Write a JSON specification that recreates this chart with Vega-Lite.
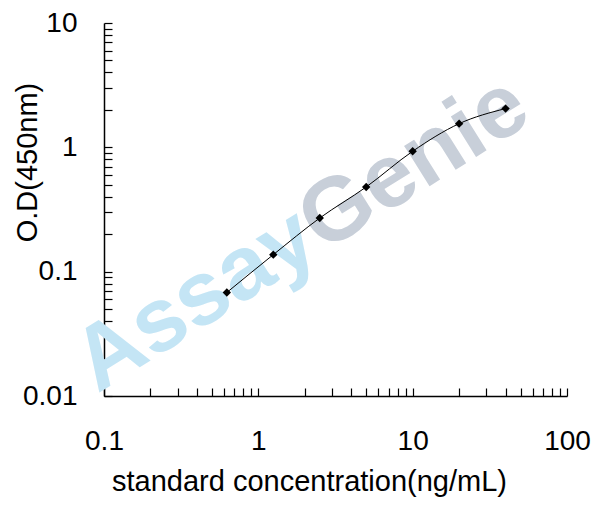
{
  "$schema": "https://vega.github.io/schema/vega-lite/v6.json",
  "width": 463,
  "height": 373,
  "autosize": "none",
  "padding": {"left": 104, "top": 23, "right": 41, "bottom": 110},
  "background": "white",
  "config": {
    "view": {"stroke": null},
    "font": "Liberation Sans",
    "axis": {
      "domainColor": "black",
      "domainWidth": 1.5,
      "tickColor": "black",
      "tickWidth": 1.2,
      "tickSize": -8,
      "labelColor": "black",
      "labelFontSize": 28,
      "titleColor": "black",
      "titleFontSize": 29,
      "titleFontWeight": "normal",
      "grid": false
    }
  },
  "datasets": {
    "curve": [
      {"conc": 0.625, "od": 0.068},
      {"conc": 1.25, "od": 0.137},
      {"conc": 2.5, "od": 0.27},
      {"conc": 5, "od": 0.48},
      {"conc": 10, "od": 0.93},
      {"conc": 20, "od": 1.55},
      {"conc": 40, "od": 2.05}
    ],
    "watermark": [
      {"conc": 2.6, "od": 0.141, "word": "Assay"},
      {"conc": 2.6, "od": 0.141, "word": "Genie"}
    ]
  },
  "encoding": {
    "x": {
      "field": "conc",
      "type": "quantitative",
      "scale": {"type": "log", "domain": [0.1, 100]},
      "axis": {
        "title": "standard concentration(ng/mL)",
        "titleX": 205,
        "titleY": 94,
        "titleBaseline": "alphabetic",
        "labelPadding": 39,
        "labelFlush": false,
        "labelOverlap": false,
        "labelAlign": "center",
        "format": "~g",
        "values": [0.1, 0.2, 0.3, 0.4, 0.5, 0.6, 0.7, 0.8, 0.9, 1, 2, 3, 4, 5, 6, 7, 8, 9, 10, 20, 30, 40, 50, 60, 70, 80, 90, 100],
        "labelExpr": "indexof([0.1, 1, 10, 100], datum.value) >= 0 ? datum.label : ''"
      }
    },
    "y": {
      "field": "od",
      "type": "quantitative",
      "scale": {"type": "log", "domain": [0.01, 10]},
      "axis": {
        "title": "O.D(450nm)",
        "titleX": -68,
        "titleY": 139,
        "titleBaseline": "alphabetic",
        "titleAngle": -90,
        "labelPadding": 35,
        "labelFlush": false,
        "labelOverlap": false,
        "labelAlign": "right",
        "labelBaseline": "middle",
        "format": "~g",
        "values": [0.01, 0.02, 0.03, 0.04, 0.05, 0.06, 0.07, 0.08, 0.09, 0.1, 0.2, 0.3, 0.4, 0.5, 0.6, 0.7, 0.8, 0.9, 1, 2, 3, 4, 5, 6, 7, 8, 9, 10],
        "labelExpr": "indexof([0.01, 0.1, 1, 10], datum.value) >= 0 ? datum.label : ''"
      }
    }
  },
  "layer": [
    {
      "data": {"name": "watermark"},
      "transform": [{"filter": "datum.word == 'Assay'"}],
      "mark": {"type": "text", "align": "right", "baseline": "alphabetic", "angle": 328, "fontSize": 90, "fontWeight": "bold", "color": "#c4e5f5"},
      "encoding": {"text": {"field": "word"}}
    },
    {
      "data": {"name": "watermark"},
      "transform": [{"filter": "datum.word == 'Genie'"}],
      "mark": {"type": "text", "align": "left", "baseline": "alphabetic", "angle": 328, "fontSize": 90, "fontWeight": "bold", "color": "#c8cfd9"},
      "encoding": {"text": {"field": "word"}}
    },
    {
      "data": {"name": "curve"},
      "mark": {"type": "line", "interpolate": "monotone", "color": "black", "strokeWidth": 1}
    },
    {
      "data": {"name": "curve"},
      "mark": {"type": "point", "shape": "diamond", "filled": true, "color": "black", "opacity": 1, "size": 70}
    }
  ]
}
